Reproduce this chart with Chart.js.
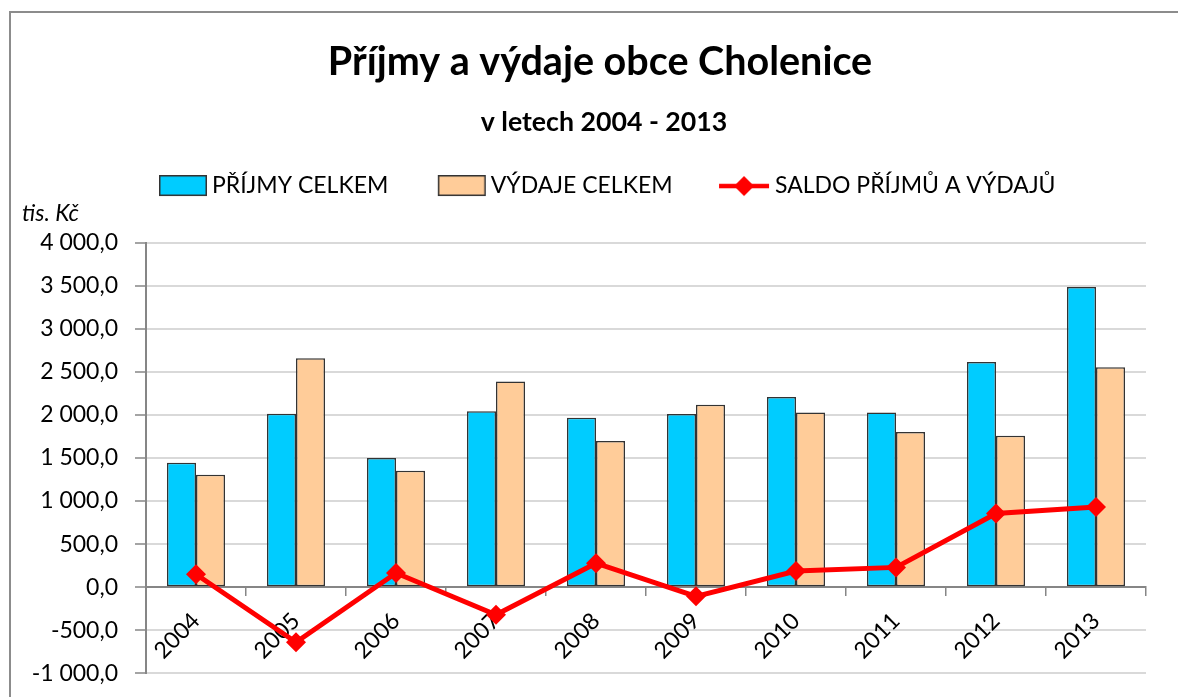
<!DOCTYPE html>
<html><head><meta charset="utf-8">
<script src="https://cdn.jsdelivr.net/npm/chart.js@4.4.1/dist/chart.umd.min.js"></script>
<style>
html,body{margin:0;padding:0;background:#fff;overflow:hidden;width:1178px;height:697px;position:relative}
#frame{position:absolute;left:9px;top:11px;width:1182px;height:702px;border-left:2px solid #8c8c8c;border-top:2px solid #8c8c8c;}
#c{display:block}
</style></head><body>
<div id="frame"><canvas id="c" width="1180" height="700"></canvas></div>
<script>
const categories = ['2004','2005','2006','2007','2008','2009','2010','2011','2012','2013'];
const prijmy = [1445, 2014, 1499, 2042, 1968, 2010, 2210, 2030, 2614, 3487];
const vydaje = [1307, 2660, 1353, 2388, 1699, 2118, 2030, 1803, 1760, 2553];
const saldo = [150, -640, 165, -320, 278, -106, 188, 230, 856, 932];
const seriesNames = ['PŘÍJMY CELKEM', 'VÝDAJE CELKEM', 'SALDO PŘÍJMŮ A VÝDAJŮ'];
const titleText = 'Příjmy a výdaje obce Cholenice';
const subtitleText = 'v letech 2004 - 2013';
const unitText = 'tis. Kč';

const FONT = 'Lato';
function fmt(v){
  const neg = v < 0; let a = Math.abs(v);
  let s = Math.round(a).toString().replace(/\B(?=(\d{3})+(?!\d))/g, ' ');
  return (neg ? '-' : '') + s + ',0';
}
const GW = 100, GA = 49;
function boxGlyph(fill){
  const c = document.createElement('canvas'); c.width = GW; c.height = 22;
  const x = c.getContext('2d'); x.fillStyle = fill; x.fillRect(GA,0,48,21);
  x.strokeStyle = '#333'; x.lineWidth = 1.5; x.strokeRect(GA+0.75,0.75,46.5,19.5); return c;
}
function lineGlyph(){
  const c = document.createElement('canvas'); c.width = GW; c.height = 22;
  const x = c.getContext('2d'); x.strokeStyle = '#ff0000'; x.lineWidth = 4.5;
  x.beginPath(); x.moveTo(GA-3,11); x.lineTo(GA+47,11); x.stroke();
  x.fillStyle = '#ff0000'; x.beginPath(); x.moveTo(GA+22,1); x.lineTo(GA+32,11); x.lineTo(GA+22,21); x.lineTo(GA+12,11); x.closePath(); x.fill();
  return c;
}
const glyphs = [boxGlyph('#00ccff'), boxGlyph('#ffcc99'), lineGlyph()];

const layoutPlugin = {
  id: 'layoutTweaks',
  beforeInit(chart){
    Chart.layouts.addBox(chart, {
      position: 'top', weight: 1, fullSize: true, options: {},
      isHorizontal(){ return true; },
      update(maxWidth){ this.width = maxWidth; this.height = 35.2; },
      draw(){}
    });
  },
  afterLayout(chart){
    chart.boxes.forEach(b => {
      let dx = 0;
      if (b === chart.titleBlock) dx = 15;
      else if (b === chart.legend) dx = 2.5;
      else if (b.options && b.options.text === subtitleText) dx = 19;
      b.left += dx; b.right += dx;
    });
  },
  afterDraw(chart){
    const ctx = chart.ctx; ctx.save();
    ctx.font = 'italic 23px ' + FONT; ctx.fillStyle = '#000';
    ctx.textBaseline = 'middle'; ctx.textAlign = 'left';
    ctx.fillText(unitText, 11, 201);
    ctx.restore();
  }
};

new Chart(document.getElementById('c'), {
  data: {
    labels: categories,
    datasets: [
      { type: 'line', label: seriesNames[2], data: saldo, borderColor: '#ff0000', backgroundColor: '#ff0000',
        borderWidth: 5, pointStyle: 'rectRot', pointRadius: 10, pointBorderWidth: 0, order: 0, tension: 0 },
      { type: 'bar', label: seriesNames[0], data: prijmy, backgroundColor: '#00ccff', borderColor: '#333',
        borderWidth: 1.5, borderSkipped: false, categoryPercentage: 0.58, barPercentage: 1.0, order: 1 },
      { type: 'bar', label: seriesNames[1], data: vydaje, backgroundColor: '#ffcc99', borderColor: '#333',
        borderWidth: 1.5, borderSkipped: false, categoryPercentage: 0.58, barPercentage: 1.0, order: 2 }
    ]
  },
  options: {
    responsive: false, animation: false, devicePixelRatio: 1,
    layout: { padding: { left: 13, right: 45, top: 0, bottom: 0 } },
    plugins: {
      title: { display: true, text: titleText, color: '#000', font: { family: FONT, size: 39.5, weight: 'bold', lineHeight: 1.2 }, padding: { top: 25.3, bottom: 20.3 } },
      subtitle: { display: true, text: subtitleText, color: '#000', font: { family: FONT, size: 26.7, weight: 'bold', lineHeight: 1.2 }, padding: { top: 0, bottom: 26.5 } },
      legend: {
        display: true, position: 'top',
        labels: {
          color: '#000', font: { family: FONT, size: 23 }, usePointStyle: true, pointStyleWidth: 81, boxHeight: 21, padding: 10,
          generateLabels(chart){
            const order = [1,2,0];
            return order.map((i, k) => ({ text: chart.data.datasets[i].label, datasetIndex: i, pointStyle: glyphs[k],
              fillStyle: chart.data.datasets[i].backgroundColor, strokeStyle: chart.data.datasets[i].borderColor, lineWidth: 0, hidden: false }));
          }
        }
      },
      tooltip: { enabled: false }
    },
    scales: {
      x: {
        position: { y: 0 },
        offset: true,
        grid: { display: true, drawOnChartArea: false, drawTicks: true, tickLength: 8, color: '#868686', offset: true, lineWidth: 1.5 },
        border: { display: true, color: '#868686', width: 2 },
        ticks: { color: '#000', font: { family: FONT, size: 23 }, minRotation: 45, maxRotation: 45, padding: 12 }
      },
      y: {
        min: -1000, max: 4000,
        ticks: { stepSize: 500, color: '#000', font: { family: FONT, size: 23 }, padding: 17, callback: v => fmt(v) },
        grid: { color: '#d9d9d9', lineWidth: 2, tickLength: 11, tickColor: '#868686', tickWidth: 1.5 },
        border: { display: true, color: '#868686', width: 2 },
        afterFit(s){ s.width = 122; s.paddingTop = 229.7; s.paddingBottom = 39.7; }
      }
    }
  },
  plugins: [layoutPlugin]
});
</script>
</body></html>
